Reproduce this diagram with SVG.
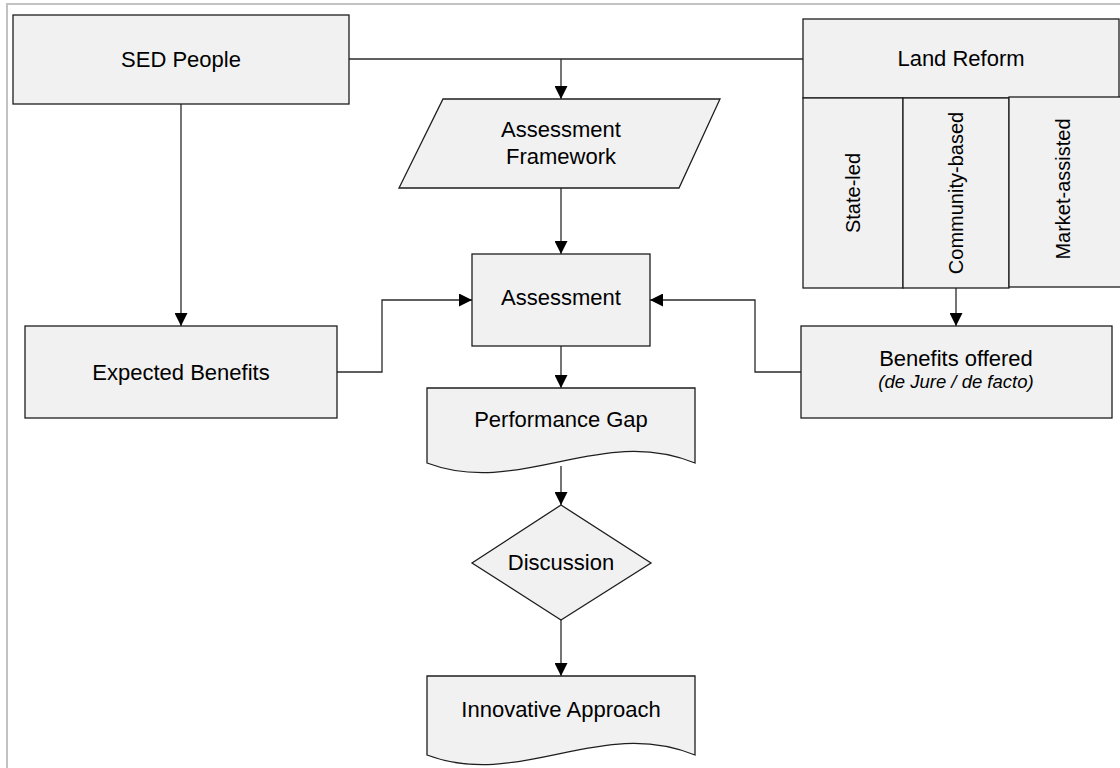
<svg xmlns="http://www.w3.org/2000/svg" width="1120" height="768" viewBox="0 0 1120 768">
  <style>
    .box { fill: #f1f1f1; stroke: #1e1e1e; stroke-width: 1.3; }
    .lbl { font-family: "Liberation Sans", Arial, sans-serif; font-size: 22px; fill: #000; text-anchor: middle; }
    .vert { font-size: 20px; }
    .conn { fill: none; stroke: #2a2a2a; stroke-width: 1.3; }
  </style>
  <defs>
    <marker id="arrow" markerUnits="userSpaceOnUse" markerWidth="14" markerHeight="13" refX="13" refY="6.5" orient="auto">
      <path d="M0,0 L13,6.5 L0,13 z" fill="#000"/>
    </marker>
  </defs>

  <rect width="1120" height="768" fill="#fff"/>
  <!-- page frame -->
  <path d="M7,768 V4 H1120" fill="none" stroke="#c2c2c2" stroke-width="2"/>

  <!-- connectors -->
  <g id="connectors">
    <path class="conn" d="M349,59 H803"/>
    <path class="conn" d="M561,59 V99" marker-end="url(#arrow)"/>
    <path class="conn" d="M181,104 V326" marker-end="url(#arrow)"/>
    <path class="conn" d="M561,188 V254" marker-end="url(#arrow)"/>
    <path class="conn" d="M337,372 H382 V300 H472" marker-end="url(#arrow)"/>
    <path class="conn" d="M801,372 H755 V300 H650" marker-end="url(#arrow)"/>
    <path class="conn" d="M956,288 V326" marker-end="url(#arrow)"/>
    <path class="conn" d="M561,346 V388" marker-end="url(#arrow)"/>
    <path class="conn" d="M561,466 V505" marker-end="url(#arrow)"/>
    <path class="conn" d="M561,620 V676" marker-end="url(#arrow)"/>
  </g>

  <g id="sed-people">
    <rect class="box" x="13" y="15" width="336" height="89"/>
    <text class="lbl" x="181" y="67">SED People</text>
  </g>

  <g id="land-reform">
    <rect class="box" x="803" y="19" width="316" height="79"/>
    <text class="lbl" x="961" y="66">Land Reform</text>
  </g>

  <g id="state-led">
    <rect class="box" x="803" y="98" width="100" height="190"/>
    <text class="lbl vert" transform="translate(860,193) rotate(-90)">State-led</text>
  </g>

  <g id="community-based">
    <rect class="box" x="903" y="98" width="106" height="190"/>
    <text class="lbl vert" transform="translate(963,193) rotate(-90)">Community-based</text>
  </g>

  <g id="market-assisted">
    <rect class="box" x="1009" y="97" width="112" height="190"/>
    <text class="lbl vert" transform="translate(1070,189) rotate(-90)">Market-assisted</text>
  </g>

  <g id="assessment-framework">
    <polygon class="box" points="443,99 720,99 679,188 399,188"/>
    <text class="lbl" x="561" y="137">Assessment</text>
    <text class="lbl" x="561" y="164">Framework</text>
  </g>

  <g id="assessment">
    <rect class="box" x="472" y="254" width="178" height="92"/>
    <text class="lbl" x="561" y="305">Assessment</text>
  </g>

  <g id="expected-benefits">
    <rect class="box" x="25" y="326" width="312" height="92"/>
    <text class="lbl" x="181" y="380">Expected Benefits</text>
  </g>

  <g id="benefits-offered">
    <rect class="box" x="801" y="326" width="311" height="92"/>
    <text class="lbl" x="956" y="366">Benefits offered</text>
    <text class="lbl" x="956" y="388" style="font-size:18.5px;font-style:italic">(de Jure / de facto)</text>
  </g>

  <g id="performance-gap">
    <path class="box" d="M427,388 H695 V463 C600,424 520,498 427,463 Z"/>
    <text class="lbl" x="561" y="427">Performance Gap</text>
  </g>

  <g id="discussion">
    <polygon class="box" points="561,505 651,563 561,620 472,563"/>
    <text class="lbl" x="561" y="570">Discussion</text>
  </g>

  <g id="innovative-approach">
    <path class="box" d="M427,676 H695 V755 C600,716 520,790 427,755 Z"/>
    <text class="lbl" x="561" y="717">Innovative Approach</text>
  </g>
</svg>
